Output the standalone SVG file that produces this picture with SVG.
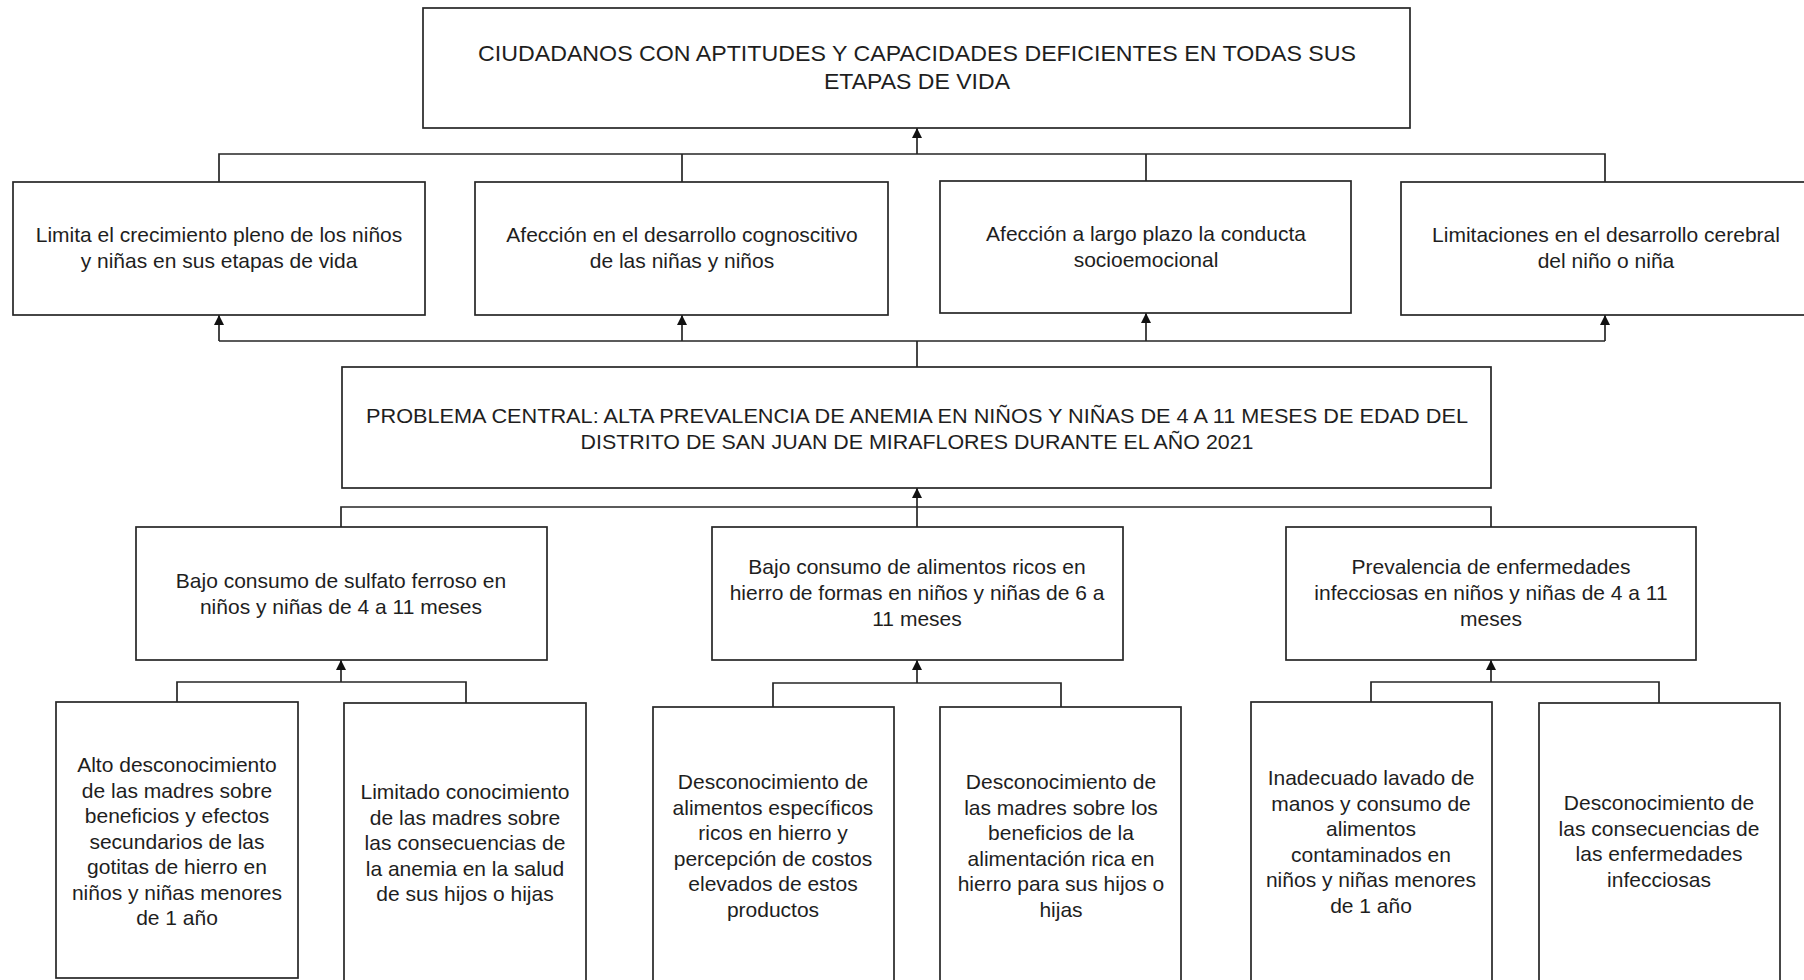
<svg xmlns="http://www.w3.org/2000/svg" width="1804" height="980" viewBox="0 0 1804 980">
<style>
.box{fill:#ffffff;stroke:#262626;stroke-width:1.7}
.t{font-family:"Liberation Sans",Arial,sans-serif;font-size:21px;fill:#1e1e1e;text-anchor:middle}
.tc{font-family:"Liberation Sans",Arial,sans-serif;font-size:22px;fill:#1e1e1e;text-anchor:middle}
.ln{fill:none;stroke:#262626;stroke-width:1.7}
.ar{fill:none;stroke:#262626;stroke-width:1.7;marker-end:url(#arrow)}
</style>
<defs>
<marker id="arrow" viewBox="0 0 10 10" refX="10" refY="5" markerWidth="13" markerHeight="10" markerUnits="userSpaceOnUse" orient="auto">
<path d="M0,0 L10,5 L0,10 z" fill="#111111"/>
</marker>
</defs>
<rect width="1804" height="980" fill="#ffffff"/>

<g id="connectors">
<path class="ln" d="M219,182 V154 H1605 V182 M682,154 V182 M1146,154 V181"/>
<path class="ar" d="M917,154 V128"/>
<path class="ln" d="M917,367 V341 M219,341 H1605"/>
<path class="ar" d="M219,341 V315"/>
<path class="ar" d="M682,341 V315"/>
<path class="ar" d="M1146,341 V313"/>
<path class="ar" d="M1605,341 V315"/>
<path class="ln" d="M341,527 V507 H1491 V527 M917,527 V507"/>
<path class="ar" d="M917,507 V488"/>
<path class="ln" d="M177,702 V682 H466 V703"/>
<path class="ar" d="M341,682 V660"/>
<path class="ln" d="M773,707 V683 H1061 V707"/>
<path class="ar" d="M917,683 V660"/>
<path class="ln" d="M1371,702 V682 H1659 V703"/>
<path class="ar" d="M1491,682 V660"/>
</g>

<g id="fin">
<rect class="box" x="423" y="8" width="987" height="120"/>
<text class="tc" x="917" y="61" textLength="878" lengthAdjust="spacingAndGlyphs">CIUDADANOS CON APTITUDES Y CAPACIDADES DEFICIENTES EN TODAS SUS</text>
<text class="tc" x="917" y="89" textLength="186" lengthAdjust="spacingAndGlyphs">ETAPAS DE VIDA</text>
</g>

<g id="efecto1">
<rect class="box" x="13" y="182" width="412" height="133"/>
<text class="t" x="219" y="242"><tspan x="219">Limita el crecimiento pleno de los niños</tspan><tspan x="219" dy="26">y niñas en sus etapas de vida</tspan></text>
</g>
<g id="efecto2">
<rect class="box" x="475" y="182" width="413" height="133"/>
<text class="t" x="682" y="242"><tspan x="682">Afección en el desarrollo cognoscitivo</tspan><tspan x="682" dy="26">de las niñas y niños</tspan></text>
</g>
<g id="efecto3">
<rect class="box" x="940" y="181" width="411" height="132"/>
<text class="t" x="1146" y="241"><tspan x="1146">Afección a largo plazo la conducta</tspan><tspan x="1146" dy="26">socioemocional</tspan></text>
</g>
<g id="efecto4">
<rect class="box" x="1401" y="182" width="420" height="133"/>
<text class="t" x="1606" y="242"><tspan x="1606">Limitaciones en el desarrollo cerebral</tspan><tspan x="1606" dy="26">del niño o niña</tspan></text>
</g>

<g id="problema">
<rect class="box" x="342" y="367" width="1149" height="121"/>
<text class="t" x="917" y="423" textLength="1102" lengthAdjust="spacingAndGlyphs">PROBLEMA CENTRAL: ALTA PREVALENCIA DE ANEMIA EN NIÑOS Y NIÑAS DE 4 A 11 MESES DE EDAD DEL</text>
<text class="t" x="917" y="449" textLength="673" lengthAdjust="spacingAndGlyphs">DISTRITO DE SAN JUAN DE MIRAFLORES DURANTE EL AÑO 2021</text>
</g>

<g id="causa1">
<rect class="box" x="136" y="527" width="411" height="133"/>
<text class="t" x="341" y="588"><tspan x="341">Bajo consumo de sulfato ferroso en</tspan><tspan x="341" dy="26">niños y niñas de 4 a 11 meses</tspan></text>
</g>
<g id="causa2">
<rect class="box" x="712" y="527" width="411" height="133"/>
<text class="t" x="917" y="574"><tspan x="917">Bajo consumo de alimentos ricos en</tspan><tspan x="917" dy="26">hierro de formas en niños y niñas de 6 a</tspan><tspan x="917" dy="26">11 meses</tspan></text>
</g>
<g id="causa3">
<rect class="box" x="1286" y="527" width="410" height="133"/>
<text class="t" x="1491" y="574"><tspan x="1491">Prevalencia de enfermedades</tspan><tspan x="1491" dy="26">infecciosas en niños y niñas de 4 a 11</tspan><tspan x="1491" dy="26">meses</tspan></text>
</g>

<g id="sub1">
<rect class="box" x="56" y="702" width="242" height="276"/>
<text class="t" x="177" y="772"><tspan x="177">Alto desconocimiento</tspan><tspan x="177" dy="25.5">de las madres sobre</tspan><tspan x="177" dy="25.5">beneficios y efectos</tspan><tspan x="177" dy="25.5">secundarios de las</tspan><tspan x="177" dy="25.5">gotitas de hierro en</tspan><tspan x="177" dy="25.5">niños y niñas menores</tspan><tspan x="177" dy="25.5">de 1 año</tspan></text>
</g>
<g id="sub2">
<rect class="box" x="344" y="703" width="242" height="290"/>
<text class="t" x="465" y="799"><tspan x="465">Limitado conocimiento</tspan><tspan x="465" dy="25.5">de las madres sobre</tspan><tspan x="465" dy="25.5">las consecuencias de</tspan><tspan x="465" dy="25.5">la anemia en la salud</tspan><tspan x="465" dy="25.5">de sus hijos o hijas</tspan></text>
</g>
<g id="sub3">
<rect class="box" x="653" y="707" width="241" height="290"/>
<text class="t" x="773" y="789"><tspan x="773">Desconocimiento de</tspan><tspan x="773" dy="25.5">alimentos específicos</tspan><tspan x="773" dy="25.5">ricos en hierro y</tspan><tspan x="773" dy="25.5">percepción de costos</tspan><tspan x="773" dy="25.5">elevados de estos</tspan><tspan x="773" dy="25.5">productos</tspan></text>
</g>
<g id="sub4">
<rect class="box" x="940" y="707" width="241" height="290"/>
<text class="t" x="1061" y="789"><tspan x="1061">Desconocimiento de</tspan><tspan x="1061" dy="25.5">las madres sobre los</tspan><tspan x="1061" dy="25.5">beneficios de la</tspan><tspan x="1061" dy="25.5">alimentación rica en</tspan><tspan x="1061" dy="25.5">hierro para sus hijos o</tspan><tspan x="1061" dy="25.5">hijas</tspan></text>
</g>
<g id="sub5">
<rect class="box" x="1251" y="702" width="241" height="290"/>
<text class="t" x="1371" y="785"><tspan x="1371">Inadecuado lavado de</tspan><tspan x="1371" dy="25.5">manos y consumo de</tspan><tspan x="1371" dy="25.5">alimentos</tspan><tspan x="1371" dy="25.5">contaminados en</tspan><tspan x="1371" dy="25.5">niños y niñas menores</tspan><tspan x="1371" dy="25.5">de 1 año</tspan></text>
</g>
<g id="sub6">
<rect class="box" x="1539" y="703" width="241" height="290"/>
<text class="t" x="1659" y="810"><tspan x="1659">Desconocimiento de</tspan><tspan x="1659" dy="25.5">las consecuencias de</tspan><tspan x="1659" dy="25.5">las enfermedades</tspan><tspan x="1659" dy="25.5">infecciosas</tspan></text>
</g>
</svg>
